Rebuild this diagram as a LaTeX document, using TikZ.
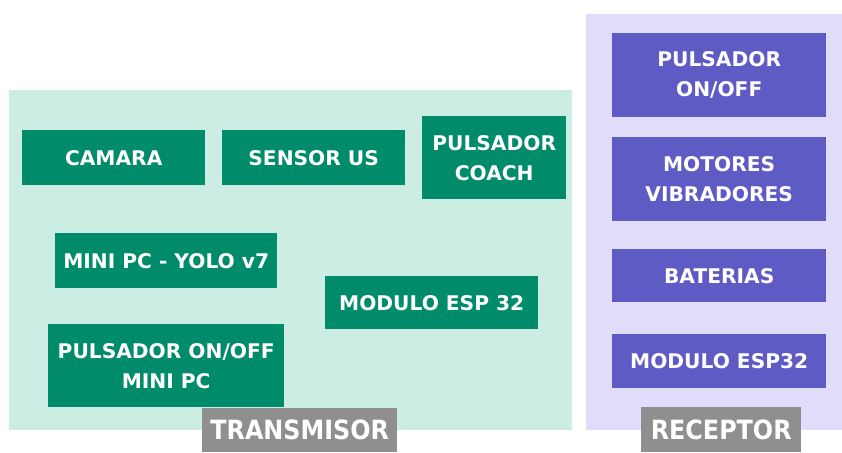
\documentclass[tikz,border=0pt]{standalone}
\usepackage{fontspec}
\setmainfont{DejaVu Sans}
\newfontfamily\labelfont{DejaVu Sans Condensed}
\usepackage{tikz}
\definecolor{txgreen}{HTML}{008C6A}
\definecolor{txmint}{HTML}{CBEDE3}
\definecolor{rxpurple}{HTML}{5F5BC5}
\definecolor{rxlilac}{HTML}{E1DCFA}
\definecolor{taggrey}{HTML}{8F8F8F}
\tikzset{
  /tikz/.cd,
  part/.style={anchor=north west,inner sep=0pt,text=white,align=center,font=\bfseries\fontsize{20.2}{30}\selectfont}
}

\begin{document}
\begin{tikzpicture}[x=1pt,y=-1pt,
                        panel/.style={anchor=north west,inner sep=0pt},
                        tag/.style={anchor=north west,inner sep=0pt,fill=taggrey,text=white,font=\labelfont\bfseries\fontsize{26.5}{30}\selectfont}]
      \useasboundingbox (0,0) rectangle (842,452);

      \node[panel,fill=txmint,minimum width=563pt,minimum height=340pt] (transmisor) at (9,90) {};
      \node[panel,fill=rxlilac,minimum width=256pt,minimum height=416pt] (receptor) at (586,14) {};

      \node[part,fill=txgreen,minimum width=183pt,minimum height=55pt] (camara) at (22,130) {CAMARA};
      \node[part,fill=txgreen,minimum width=183pt,minimum height=55pt] (sensor) at (222,130) {SENSOR US};
      \node[part,fill=txgreen,minimum width=144pt,minimum height=83pt] (coach) at (422,116) {PULSADOR\\COACH};
      \node[part,fill=txgreen,minimum width=222pt,minimum height=55pt] (minipc) at (55,233) {MINI PC - YOLO v7};
      \node[part,fill=txgreen,minimum width=213pt,minimum height=53pt] (esptx) at (325,276) {MODULO ESP 32};
      \node[part,fill=txgreen,minimum width=236pt,minimum height=83pt] (onoffpc) at (48,324) {PULSADOR ON/OFF\\MINI PC};

      \node[part,fill=rxpurple,minimum width=214pt,minimum height=84pt] (onoffrx) at (612,33) {PULSADOR\\ON/OFF};
      \node[part,fill=rxpurple,minimum width=214pt,minimum height=84pt] (motores) at (612,137) {MOTORES\\VIBRADORES};
      \node[part,fill=rxpurple,minimum width=214pt,minimum height=53pt] (baterias) at (612,249) {BATERIAS};
      \node[part,fill=rxpurple,minimum width=214pt,minimum height=54pt] (esprx) at (612,334) {MODULO ESP32};

      \node[tag,minimum width=195pt,minimum height=44pt] (tagtx) at (202,408) {TRANSMISOR};
      \node[tag,minimum width=160pt,minimum height=45pt] (tagrx) at (641,407) {RECEPTOR};
    \end{tikzpicture}
\end{document}
